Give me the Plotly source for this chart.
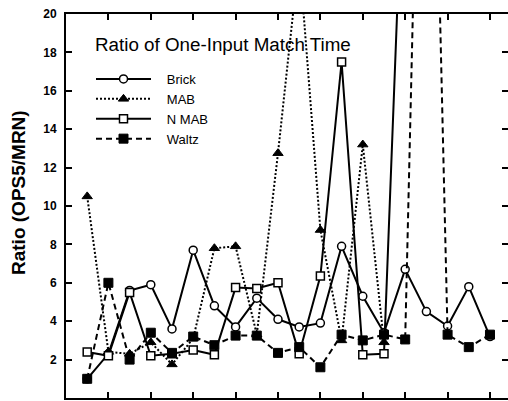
import plotly.graph_objects as go

# x positions (run index)
brick_x = list(range(1, 21))
brick_y = [1.0, 2.3, 5.6, 5.9, 3.6, 7.7, 4.8, 3.7, 5.2, 4.1, 3.7, 3.9, 7.9, 5.3, 3.4, 6.7, 4.5, 3.75, 5.8, 3.2]

mab_x = list(range(1, 16))
mab_y = [10.5, 2.4, 2.3, 2.9, 1.75, 3.1, 7.8, 7.9, 3.3, 12.75, 23.0, 8.75, 3.0, 13.2, 2.9]

nmab_x = list(range(1, 17))
nmab_y = [2.4, 2.2, 5.5, 2.2, 2.3, 2.5, 2.25, 5.75, 5.7, 6.0, 2.3, 6.35, 17.5, 2.25, 2.3, 31.0]

waltz_x = list(range(1, 21))
waltz_y = [1.0, 6.0, 2.0, 3.4, 2.35, 3.2, 2.75, 3.25, 3.25, 2.35, 2.65, 1.6, 3.3, 3.0, 3.3, 3.05, 50.0, 3.3, 2.65, 3.3]

series_names = ["Brick", "MAB", "N MAB", "Waltz"]

y_ticks = [0, 2, 4, 6, 8, 10, 12, 14, 16, 18, 20]
y_tick_labels = ["0", "2", "4", "6", "8", "10", "12", "14", "16", "18", "20"]

FONT = "Liberation Sans, Arial, sans-serif"

W, H = 508, 401
ML, MR, MT, MB = 66, 0, 14, 3
PW, PH = W - ML - MR, H - MT - MB


def px_x(p):
    return (p - ML) / PW


def px_y(p):
    return (H - MB - p) / PH


PAD = "\u00a0\u00a0\u00a0"

fig = go.Figure()
fig.add_trace(go.Scatter(
    x=brick_x, y=brick_y, name=PAD + series_names[0], mode="lines+markers",
    line=dict(color="black", width=2, dash="solid"),
    marker=dict(symbol="circle", size=8, color="white", line=dict(color="black", width=1.5)),
))
fig.add_trace(go.Scatter(
    x=mab_x, y=mab_y, name=PAD + series_names[1], mode="lines+markers",
    line=dict(color="black", width=2, dash="2px,2px"),
    marker=dict(symbol="triangle-up", size=9, color="black", line=dict(color="black", width=1)),
))
fig.add_trace(go.Scatter(
    x=nmab_x, y=nmab_y, name=PAD + series_names[2], mode="lines+markers",
    line=dict(color="black", width=2, dash="solid"),
    marker=dict(symbol="square", size=8, color="white", line=dict(color="black", width=1.5)),
))
fig.add_trace(go.Scatter(
    x=waltz_x, y=waltz_y, name=PAD + series_names[3], mode="lines+markers",
    line=dict(color="black", width=2, dash="6px,4px"),
    marker=dict(symbol="square", size=9, color="black", line=dict(color="black", width=1)),
))

fig.update_layout(
    width=W, height=H, autosize=False,
    margin=dict(l=ML, r=MR, t=MT, b=MB, pad=0),
    paper_bgcolor="white", plot_bgcolor="white",
    font=dict(family=FONT, color="black"),
    showlegend=True,
    legend=dict(
        x=px_x(91), xanchor="left", y=px_y(64), yanchor="top",
        bgcolor="rgba(0,0,0,0)", borderwidth=0,
        font=dict(size=13, family=FONT, color="black"),
        tracegroupgap=0, itemsizing="trace", itemwidth=55,
    ),
)
fig.update_xaxes(
    range=[0, 20.85], tick0=0, dtick=2, ticks="inside", ticklen=6, tickwidth=1.5,
    tickcolor="black", showticklabels=False, showgrid=False, zeroline=False,
    showline=True, linecolor="black", linewidth=2, mirror="ticks", automargin=False,
)
fig.update_yaxes(
    range=[0, 20], tickmode="array", tickvals=y_ticks, ticktext=y_tick_labels,
    ticks="inside", ticklen=6, tickwidth=1.5, tickcolor="black",
    tickfont=dict(size=12, family=FONT, color="black", weight="bold"),
    ticklabelstandoff=5,
    showgrid=False, zeroline=False, showline=True, linecolor="black", linewidth=2,
    mirror="ticks", automargin=False,
)
fig.add_annotation(
    text="<b>Ratio (OPS5/MRN)</b>", textangle=-90,
    xref="paper", yref="paper", x=px_x(18), y=px_y(193),
    xanchor="center", yanchor="middle", showarrow=False,
    font=dict(size=19, family=FONT, color="black"),
)
fig.add_annotation(
    text="Ratio of One-Input Match Time",
    xref="paper", yref="paper", x=px_x(93), y=px_y(45),
    xanchor="left", yanchor="middle", showarrow=False,
    font=dict(size=18.8, family=FONT, color="black"),
)

fig.write_html(
    "out.html",
    config={"displayModeBar": False},
    post_script="document.body.style.margin='0px';",
)
